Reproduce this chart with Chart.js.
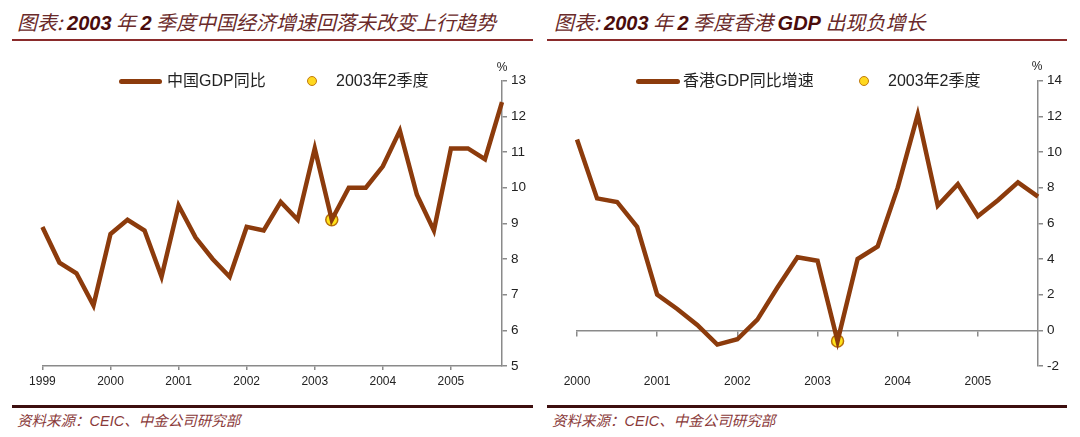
<!DOCTYPE html>
<html><head><meta charset="utf-8">
<script src="https://cdn.jsdelivr.net/npm/chart.js@4.4.1/dist/chart.umd.min.js"></script>
<style>
html,body{margin:0;padding:0;background:#fff;width:1080px;height:437px;overflow:hidden;position:relative;}
.abs{position:absolute;}
.title{font-family:"Noto Sans CJK SC",sans-serif;font-style:italic;font-size:20px;color:#6a2a2a;white-space:nowrap;line-height:20px;}
.title b{font-family:"Liberation Sans",Arial,sans-serif;font-weight:bold;color:#4a0c0c;}
.rtop{height:2px;background:#8a2b2b;}
.rbot{height:3px;background:#3d0f0f;}
.src{font-family:"Noto Sans CJK SC",sans-serif;font-style:italic;font-size:14.5px;color:#8a3a3a;white-space:nowrap;line-height:20px;}
.src span{font-family:"Liberation Sans",Arial,sans-serif;}
.leg{font-family:"Liberation Sans","Noto Sans CJK SC",sans-serif;font-size:16px;color:#222;white-space:nowrap;line-height:20px;}
.lline{height:5px;background:#8c3b0c;border-radius:3px;}
.ldot{width:8px;height:8px;border-radius:50%;background:#ffd81f;border:1px solid #c07a10;}
.pct{font-family:"Liberation Sans",Arial,sans-serif;font-size:12px;color:#222;line-height:14px;transform:translateX(-50%);}
canvas{position:absolute;top:0;}
</style></head>
<body>
<div class="abs title" style="left:17px;top:12px;">图表: <b>2003</b> 年 <b>2</b> 季度中国经济增速回落未改变上行趋势</div>
<div class="abs rtop" style="left:12px;top:38.7px;width:521px;"></div>
<div class="abs title" style="left:554px;top:12px;">图表: <b>2003</b> 年 <b>2</b> 季度香港 <b>GDP</b> 出现负增长</div>
<div class="abs rtop" style="left:547px;top:38.7px;width:520px;"></div>

<canvas id="cn" width="540" height="400" style="left:0px;"></canvas>
<canvas id="hk" width="540" height="400" style="left:540px;"></canvas>

<div class="abs lline" style="left:119px;top:79px;width:43px;"></div>
<div class="abs leg" style="left:167px;top:71.4px;">中国GDP同比</div>
<div class="abs ldot" style="left:307px;top:76.4px;"></div>
<div class="abs leg" style="left:336px;top:71.4px;">2003年2季度</div>
<div class="abs pct" style="left:502px;top:60px;">%</div>

<div class="abs lline" style="left:636px;top:79px;width:44px;"></div>
<div class="abs leg" style="left:683px;top:71.4px;">香港GDP同比增速</div>
<div class="abs ldot" style="left:859px;top:76.4px;"></div>
<div class="abs leg" style="left:888px;top:71.4px;">2003年2季度</div>
<div class="abs pct" style="left:1037px;top:59px;">%</div>

<div class="abs rbot" style="left:12px;top:404.5px;width:521px;"></div>
<div class="abs rbot" style="left:547px;top:404.5px;width:520px;"></div>
<div class="abs src" style="left:17px;top:410px;">资料来源：<span>CEIC</span>、中金公司研究部</div>
<div class="abs src" style="left:552px;top:410px;">资料来源：<span>CEIC</span>、中金公司研究部</div>

<script>
// ---------- data ----------
const cnQuarters = ['1999Q1','1999Q2','1999Q3','1999Q4','2000Q1','2000Q2','2000Q3','2000Q4',
  '2001Q1','2001Q2','2001Q3','2001Q4','2002Q1','2002Q2','2002Q3','2002Q4',
  '2003Q1','2003Q2','2003Q3','2003Q4','2004Q1','2004Q2','2004Q3','2004Q4',
  '2005Q1','2005Q2','2005Q3','2005Q4'];
const cnGdp = [8.9,7.9,7.6,6.7, 8.7,9.1,8.8,7.5, 9.5,8.6,8.0,7.5, 8.9,8.8,9.6,9.1,
  11.1,9.1,10.0,10.0, 10.6,11.6,9.8,8.8, 11.1,11.1,10.8,12.4];
const cnYearLabels = ['1999','2000','2001','2002','2003','2004','2005'];
const cnYTicks = [5,6,7,8,9,10,11,12,13];

const hkQuarters = ['2000Q1','2000Q2','2000Q3','2000Q4','2001Q1','2001Q2','2001Q3','2001Q4',
  '2002Q1','2002Q2','2002Q3','2002Q4','2003Q1','2003Q2','2003Q3','2003Q4',
  '2004Q1','2004Q2','2004Q3','2004Q4','2005Q1','2005Q2','2005Q3','2005Q4'];
const hkGdp = [10.7,7.4,7.2,5.8, 2.0,1.2,0.3,-0.8, -0.5,0.6,2.4,4.1, 3.9,-0.6,4.0,4.7,
  8.0,12.1,7.0,8.2, 6.4,7.3,8.3,7.5];
const hkYearLabels = ['2000','2001','2002','2003','2004','2005'];
const hkYTicks = [-2,0,2,4,6,8,10,12,14];

const highlightQuarter = '2003Q2';
const cnSeriesName = '中国GDP同比';
const hkSeriesName = '香港GDP同比增速';
const highlightName = '2003年2季度';

// ---------- styles ----------
const BROWN = '#8c3b0c';
const AXIS = '#8a8a8a';
const YELLOW = '#ffe31a';
const DOTBORDER = '#b8700a';
const TICKFONT = {family:'"Liberation Sans", Arial, sans-serif', size:13.5};
const XFONT = {family:'"Liberation Sans", Arial, sans-serif', size:12};
const CLEAR = 'rgba(0,0,0,0)';

function highlightData(cats, vals){
  return vals.map((v,i)=> cats[i]===highlightQuarter ? v : null);
}
function yearTickColor(ctx){ return (ctx.index % 4 === 0) ? AXIS : CLEAR; }

function makeChart(id, cats, vals, name, yTicks, years, isHK, pad, yWidth){
  const scales = {
    x: {
      type:'category', offset:false, position:'bottom',
      border: isHK ? {display:false} : {display:true, color:AXIS, width:1.5},
      grid: isHK ? {display:false, drawTicks:false}
                 : {drawOnChartArea:false, drawTicks:true, tickLength:4, color:yearTickColor, lineWidth:1.5},
      ticks: {
        autoSkip:false, maxRotation:0, minRotation:0, color:'#222', font:XFONT,
        padding: isHK ? 8 : 4,
        callback: (v, i) => (i % 4 === 0 ? years[i/4] : '')
      },
      afterFit: s => { s.height = 30; }
    },
    y: {
      type:'linear', position:'right',
      min: yTicks[0], max: yTicks[yTicks.length-1],
      afterBuildTicks: s => { s.ticks = yTicks.map(v => ({value:v})); },
      border: {display:true, color:AXIS, width:1.5},
      grid: {drawOnChartArea:false, drawTicks:true, tickLength:5, color:AXIS, lineWidth:1.5},
      ticks: {color:'#222', font:TICKFONT, padding:4},
      afterFit: s => { s.width = yWidth; }
    }
  };
  if (isHK) {
    scales.x2 = {
      type:'category', offset:false, position:{y:0},
      border: {display:true, color:AXIS, width:1.5},
      grid: {drawOnChartArea:false, drawTicks:true, tickLength:5, color:yearTickColor, lineWidth:1.5},
      ticks: {display:false, autoSkip:false}
    };
  }
  return new Chart(document.getElementById(id), {
    type:'line',
    data:{
      labels: cats,
      datasets:[
        {label:name, data:vals, borderColor:BROWN, borderWidth:4.5, pointRadius:0,
         tension:0, borderJoinStyle:'miter', borderCapStyle:'butt', fill:false},
        {label:highlightName, data:highlightData(cats, vals), showLine:false,
         pointRadius:6, pointBackgroundColor:YELLOW, pointBorderColor:DOTBORDER, pointBorderWidth:1.5}
      ]
    },
    options:{
      responsive:false, animation:false, devicePixelRatio:1,
      layout:{padding:pad, autoPadding:false},
      plugins:{legend:{display:false}, tooltip:{enabled:false}, title:{display:false}},
      scales
    }
  });
}

makeChart('cn', cnQuarters, cnGdp, cnSeriesName, cnYTicks, cnYearLabels, false,
  {left:42.4, top:80.7, right:0, bottom:4}, 38);
makeChart('hk', hkQuarters, hkGdp, hkSeriesName, hkYTicks, hkYearLabels, true,
  {left:37, top:80.7, right:0, bottom:4}, 42);
</script>
</body></html>
